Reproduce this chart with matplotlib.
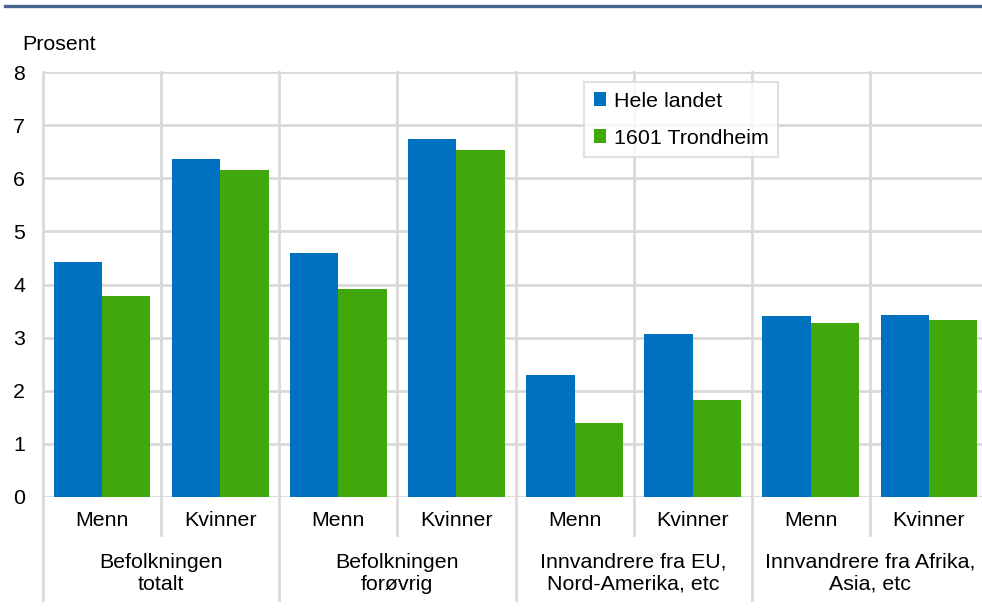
import matplotlib
matplotlib.use("Agg")
import matplotlib.pyplot as plt
from matplotlib.patches import Patch
from matplotlib.lines import Line2D
import matplotlib.transforms as mtransforms

plt.rcParams['font.family'] = ['Liberation Sans', 'DejaVu Sans']

sub_labels = ["Menn", "Kvinner", "Menn", "Kvinner", "Menn", "Kvinner", "Menn", "Kvinner"]
group_labels = ["Befolkningen\ntotalt", "Befolkningen\nforøvrig",
                "Innvandrere fra EU,\nNord-Amerika, etc", "Innvandrere fra Afrika,\nAsia, etc"]
hele_landet = [4.42, 6.36, 4.60, 6.74, 2.30, 3.07, 3.41, 3.43]
trondheim = [3.78, 6.16, 3.92, 6.53, 1.39, 1.83, 3.28, 3.33]
series_names = ["Hele landet", "1601 Trondheim"]
yticks = [0, 1, 2, 3, 4, 5, 6, 7, 8]

blue = "#0070C0"
green = "#41A80C"
grid_c = "#D9D9D9"
fs = 15.4

W, H = 982, 608
fig = plt.figure(figsize=(W / 100, H / 100), dpi=100)
ax = fig.add_axes([43 / W, (H - 497) / H, 945 / W, 425 / H])

n = len(sub_labels)
x = list(range(n))
bw = 0.41
ax.bar([i - bw / 2 for i in x], hele_landet, width=bw, color=blue, zorder=3, label=series_names[0])
ax.bar([i + bw / 2 for i in x], trondheim, width=bw, color=green, zorder=3, label=series_names[1])

ax.set_xlim(-0.5, n - 0.5)
ax.set_ylim(0, 8)
for s in ax.spines.values():
    s.set_visible(False)
for yv in yticks:
    ax.axhline(yv, color=grid_c, lw=2, zorder=1)
ax.set_yticks(yticks)
ax.set_yticklabels([str(v) for v in yticks], fontsize=fs)
ax.tick_params(axis='y', length=0, pad=13)
ax.set_xticks([])

trans = mtransforms.blended_transform_factory(ax.transData, ax.transAxes)
for k in range(n + 1):
    xv = k - 0.5
    ylow = -0.242 if k % 2 == 0 else -0.089
    ax.add_line(Line2D([xv, xv], [ylow, 1.0], transform=trans, color=grid_c, lw=2,
                       clip_on=False, zorder=1))

for i, lab in enumerate(sub_labels):
    ax.text(i, -0.056, lab, transform=trans, ha='center', va='center', fontsize=fs)
for g, lab in enumerate(group_labels):
    ax.text(2 * g + 0.5, -0.18, lab, transform=trans, ha='center', va='center',
            fontsize=fs, linespacing=1.2)

handles = [Patch(facecolor=blue), Patch(facecolor=green)]
leg = ax.legend(handles, series_names, loc='upper left',
                bbox_to_anchor=(584 / W, 1 - 82 / H), bbox_transform=fig.transFigure,
                fontsize=fs, frameon=True, fancybox=False, handlelength=0.6, handleheight=0.6,
                handletextpad=0.35, labelspacing=0.85, borderpad=0.45, borderaxespad=0)
leg.get_frame().set_edgecolor(grid_c)
leg.get_frame().set_linewidth(1.5)

fig.add_artist(Line2D([5 / W, 1.0], [1 - 6 / H, 1 - 6 / H], transform=fig.transFigure,
                      color="#4A6491", lw=2.4))
fig.text(22 / W, 1 - 44 / H, "Prosent", ha='left', va='center', fontsize=fs)

fig.savefig("out.png", dpi=100)
